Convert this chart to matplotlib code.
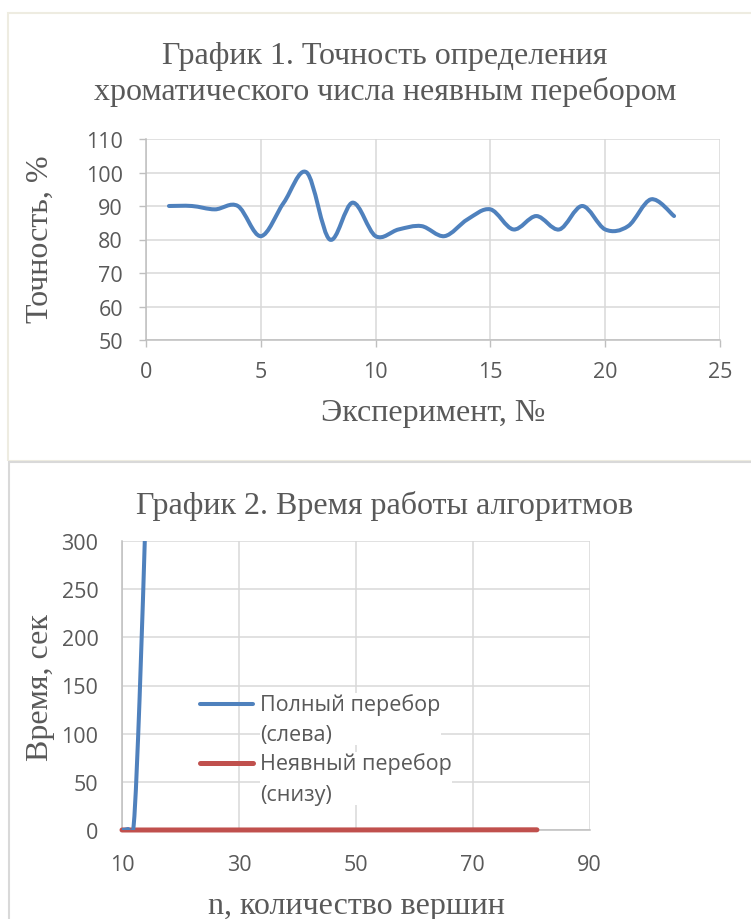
import matplotlib
matplotlib.use('Agg')
import numpy as np
import matplotlib.pyplot as plt
from matplotlib.path import Path
from matplotlib.patches import PathPatch, Rectangle
from matplotlib.lines import Line2D
from matplotlib.legend_handler import HandlerLine2D

# График 1: точность неявного перебора по экспериментам
experiments = list(range(1, 24))
accuracy = [90, 90, 89, 90, 81, 91, 100, 80, 91, 81, 83, 84,
            81, 86, 89, 83, 87, 83, 90, 83, 84, 92, 87]

# График 2: время работы алгоритмов
full_n = [10, 11, 12, 13, 14]
full_time = [0.0, 1.0, 5.0, 135.0, 320.0]
implicit_n = [10, 20, 30, 40, 50, 60, 70, 81]
implicit_time = [0.0, 0.01, 0.02, 0.04, 0.07, 0.1, 0.15, 0.2]

title1 = 'График 1. Точность определения\nхроматического числа неявным перебором'
title2 = 'График 2. Время работы алгоритмов'
label_full = 'Полный перебор\n(слева)'
label_implicit = 'Неявный перебор\n(снизу)'

BLUE = '#4f81bd'
RED = '#c0504d'
GRID = '#d9d9d9'
AXIS = '#bfbfbf'
TEXT = '#595959'
SERIF = ['Liberation Serif', 'DejaVu Serif']
SANS = ['Open Sans', 'DejaVu Sans']

W, H = 751, 920


def smooth_path(xs, ys):
    # сглаженная линия как в Excel: отрезки Катмулла-Рома в виде кривых Безье
    pts = list(zip(xs, ys))
    verts = [pts[0]]
    codes = [Path.MOVETO]
    n = len(pts)
    for i in range(n - 1):
        p0 = pts[max(i - 1, 0)]
        p1 = pts[i]
        p2 = pts[i + 1]
        p3 = pts[min(i + 2, n - 1)]
        c1 = (p1[0] + (p2[0] - p0[0]) / 6, p1[1] + (p2[1] - p0[1]) / 6)
        c2 = (p2[0] - (p3[0] - p1[0]) / 6, p2[1] - (p3[1] - p1[1]) / 6)
        verts += [c1, c2, p2]
        codes += [Path.CURVE4] * 3
    return Path(verts, codes)


class FirstLineHandler(HandlerLine2D):
    # маркер легенды напротив первой строки подписи
    def __init__(self, shift, **kw):
        super().__init__(**kw)
        self.shift = shift

    def create_artists(self, *args, **kwargs):
        artists = super().create_artists(*args, **kwargs)
        for a in artists:
            a.set_ydata(np.asarray(a.get_ydata()) + self.shift)
        return artists


def fx(px):
    return px / W


def fy(py):
    return 1 - py / H


def style_axes(ax):
    for side in ('top', 'right'):
        ax.spines[side].set_visible(False)
    for side in ('left', 'bottom'):
        ax.spines[side].set_color(AXIS)
        ax.spines[side].set_linewidth(1.1)
    ax.grid(True, color=GRID, linewidth=1.1)
    ax.set_axisbelow(True)
    for lab in ax.get_xticklabels() + ax.get_yticklabels():
        lab.set_family(SANS)
        lab.set_fontsize(15.5)
        lab.set_color(TEXT)


fig = plt.figure(figsize=(W / 100, H / 100), dpi=100)

# рамки областей диаграмм
fig.add_artist(Rectangle((fx(8), fy(462)), 1, fy(14) - fy(462), transform=fig.transFigure,
                         fill=False, edgecolor='#eeece1', linewidth=1.5))
fig.add_artist(Rectangle((fx(9), -0.1), 1, fy(463) + 0.1, transform=fig.transFigure,
                         fill=False, edgecolor=GRID, linewidth=1.5))

# ---- График 1 ----
ax1 = fig.add_axes([fx(146), fy(341), fx(720) - fx(146), fy(140) - fy(341)])
ax1.set_xlim(0, 25)
ax1.set_ylim(50, 110)
ax1.set_xticks(range(0, 26, 5))
ax1.set_yticks(range(50, 111, 10))
ax1.tick_params(direction='out', length=5, width=1, color=AXIS, pad=10)
ax1.tick_params(axis='y', pad=11.5)
style_axes(ax1)
ax1.add_patch(PathPatch(smooth_path(experiments, accuracy), fill=False,
                        edgecolor=BLUE, linewidth=2.9, capstyle='round',
                        joinstyle='round', zorder=3))

ax1.set_xlabel('Эксперимент, №', family=SERIF, fontsize=23, color=TEXT)
ax1.set_ylabel('Точность, %', family=SERIF, fontsize=23, color=TEXT)
ax1.xaxis.label.set_va('center')
ax1.yaxis.label.set_va('center')
ax1.xaxis.set_label_coords((433 - 146) / 574, (341 - 413) / 201)
ax1.yaxis.set_label_coords((40 - 146) / 574, (341 - 239.5) / 201)

fig.text(fx(385), fy(74.5), title1, ha='center', va='center', family=SERIF,
         fontsize=23, color=TEXT, linespacing=1.25)

# ---- График 2 ----
ax2 = fig.add_axes([fx(122), fy(831), fx(589.5) - fx(122), fy(542) - fy(831)])
ax2.set_xlim(10, 90)
ax2.set_ylim(0, 300)
ax2.set_xticks(range(10, 91, 20))
ax2.set_yticks(range(0, 301, 50))
ax2.tick_params(length=0, pad=17)
style_axes(ax2)
ax2.plot(implicit_n, implicit_time, color=RED, linewidth=3.6,
         solid_capstyle='round', clip_on=False, zorder=2.8)
ax2.add_patch(PathPatch(smooth_path(full_n, full_time), fill=False,
                        edgecolor=BLUE, linewidth=2.9, capstyle='round',
                        joinstyle='round', zorder=3))

ax2.set_xlabel('n, количество вершин', family=SERIF, fontsize=23, color=TEXT)
ax2.set_ylabel('Время, сек', family=SERIF, fontsize=23, color=TEXT)
ax2.xaxis.label.set_va('center')
ax2.yaxis.label.set_va('center')
ax2.xaxis.set_label_coords((356 - 122) / 467.5, (831 - 907) / 289)
ax2.yaxis.set_label_coords((40 - 122) / 467.5, (831 - 688) / 289)

handles = [Line2D([], [], color=BLUE, linewidth=2.9, solid_capstyle='round'),
           Line2D([], [], color=RED, linewidth=3.6, solid_capstyle='round')]
leg = ax2.legend(handles, [label_full, label_implicit], loc='upper left',
                 bbox_to_anchor=((200 - 122) / 467.5, (831 - 694) / 289),
                 frameon=False, borderpad=0, borderaxespad=0,
                 handlelength=2.45, handletextpad=0.35, labelspacing=0.31,
                 handler_map={Line2D: FirstLineHandler(11.5)},
                 prop={'family': SANS, 'size': 15.5})
for t in leg.get_texts():
    t.set_color(TEXT)
    t.set_linespacing(1.6)
    t.set_bbox(dict(facecolor='white', edgecolor='none', pad=0))

fig.text(fx(385), fy(506), title2, ha='center', va='center', family=SERIF,
         fontsize=23, color=TEXT)

fig.savefig('out.png', dpi=100)
